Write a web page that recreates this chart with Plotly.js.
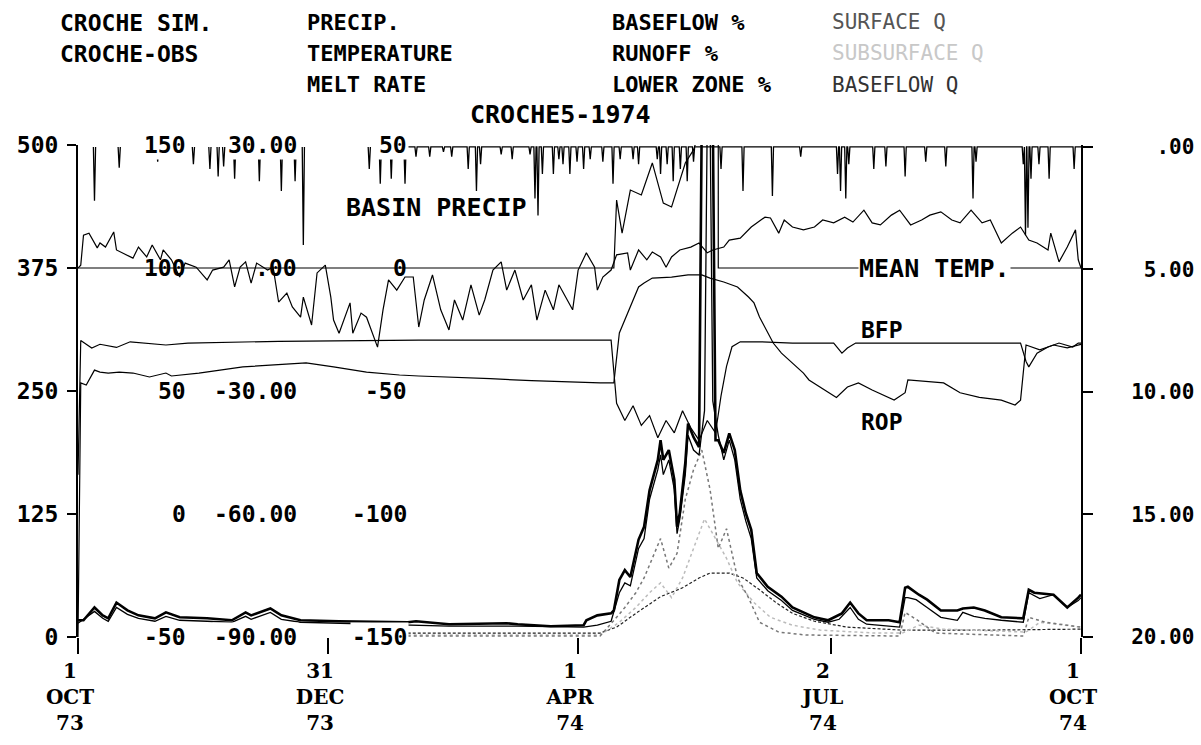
<!DOCTYPE html>
<html><head><meta charset="utf-8">
<script src="https://cdn.plot.ly/plotly-3.0.1.min.js"></script>
<style>html,body{margin:0;padding:0;background:#fff}#chart{width:1201px;height:745px}</style>
</head><body><div id="chart"></div>
<script>
// ---------------- DATA (day 0 = 1 OCT 1973) ----------------
const xTickDays = [0, 91, 182, 274, 365];
const xTickText = ['1<br>OCT<br>73', '31<br>DEC<br>73', '1<br>APR<br>74', '2<br>JUL<br>74', '1<br>OCT<br>74'];
const qTickVals = [0, 125, 250, 375, 500];
const pTickVals = [0, 5, 10, 15, 20];
const pTickText = ['.00', '5.00', '10.00', '15.00', '20.00'];
const pctTickVals = [150, 100, 50, 0, -50];
const pctTickText = ['150', '100', '50', '0', '-50'];
const tempTickVals = [30, 0, -30, -60, -90];
const tempTickText = ['30.00', '.00', '-30.00', '-60.00', '-90.00'];
const meltTickVals = [50, 0, -50, -100, -150];
const meltTickText = ['50', '0', '-50', '-100', '-150'];

// simulated discharge (CROCHE SIM.)
const simDay = [0,2,6,9,11,14,18,22,28,32,37,47,56,61,63,70,74,81,95,120,123,131,135,156,160,172,184,185,189,194,195,197,199,201,204,206,208,211,212,213,215,217,218,219,221,222,224,226,227,231,232,233,235,237,239,241,243,245,247,251,256,260,268,273,278,281,284,287,295,299,301,302,306,309,314,320,322,326,330,336,344,346,348,355,360,364,365];
const simQ = [17,17,30,22,19,35,27,22,19,25,20,19,17,25,22,29,22,17,16,15,16,14,13,14,13,11,12,17,22,24,27,58,68,61,99,112,149,180,200,180,190,160,112,126,177,217,203,193,530,530,200,200,187,207,190,149,126,109,65,51,41,30,20,17,24,35,24,17,17,15,50,51,43,38,27,27,29,30,27,20,19,48,45,43,30,40,43];
// observed discharge (CROCHE-OBS)
const obsDay = [0,6,9,11,14,18,22,28,32,37,47,56,61,63,70,74,81,95,120,135,160,184,189,194,197,199,201,204,206,208,211,212,213,215,217,218,219,221,222,224,226,228,229,230,231,233,235,237,239,241,243,245,247,251,256,260,268,273,277,281,284,287,299,301,302,305,309,314,320,322,326,330,336,344,346,350,355,360,364,365];
const obsQ = [14,26,19,16,30,23,19,16,21,17,16,15,21,18,25,18,15,14,12,11,11,10,12,16,45,55,52,90,100,140,170,185,165,180,150,105,120,165,205,190,185,230,530,530,240,205,180,200,180,140,118,100,60,47,37,27,18,15,18,30,18,13,10,40,40,38,30,20,17,25,21,19,17,15,45,39,43,30,37,40];
// surface / subsurface / baseflow Q
const surfDay = [120,190,196,199,203,206,209,212,215,218,221,224,227,230,233,236,240,244,248,255,265,299,301,305,312,344,346,352,360,365];
const surfQ = [1,1,20,30,45,60,80,100,70,85,140,170,190,150,90,110,60,40,15,5,2,1,25,18,4,1,20,15,12,10];
const subDay = [120,190,197,203,208,212,216,220,224,228,232,236,240,246,252,260,270,290,300,306,315,345,350,360,365];
const subQ = [2,2,15,30,45,55,40,60,90,120,100,80,55,35,20,12,7,4,4,12,8,5,15,12,10];
const baseDay = [120,190,196,203,212,220,226,230,237,242,248,254,260,268,280,300,330,365];
const baseQ = [4,4,10,24,41,50,60,65,65,60,48,35,24,16,10,7,7,8];

// basin precipitation (mm, right axis, hanging from top)
const precipDay = [123,128,133,136,142,145,146.5,154,158,164.5,166.3,167.4,169,173,175,176.5,179,181.6,184,186.4,191,194.7,197.3,202,204,210.8,212,214.4,216.6,219.2,221.7,224,234,242,252.7,263,276.4,277.5,279.4,280.5,289.6,294,301,308.5,315.8,325.7,326.8,344,344.8,345.7,346.8,349.7,353.4,362.5];
const precipMm = [0.4,0.4,0.2,0.4,0.9,1.8,0.7,0.3,0.5,0.3,2.1,2.8,1.1,1.1,0.5,0.7,1.1,0.6,0.9,0.5,0.6,1.5,0.5,0.5,0.7,0.5,1.1,0.7,1.4,0.9,1.4,0.6,0.9,1.8,2.0,0.4,1.1,1.8,2.1,0.7,0.9,0.8,1.2,0.6,0.8,2.1,0.6,0.7,3.6,3.3,1.3,0.7,1.3,0.9];
const precipWinterDay = [6,15,29,42,48,51,53,57,66,74,79,82,106,110,114,119];
const precipWinterMm = [2.2,0.85,0.6,0.7,0.9,1.2,0.8,1.3,1.4,1.8,1.4,4.0,0.9,1.5,1.3,1.5];

// mean temperature (deg C)
const tempDay = [0,1,2,4,7,8,10,13,14,18,20,22,25,27,30,31,34,37,39,43,47,49,53,55,57,59,61,63,65,69,71,73,76,78,81,82,85,87,90,92,93,95,99,100,103,105,109,111,113,116,119,122,124,126,129,132,135,137,140,143,146,148,151,154,156,159,162,165,167,170,173,175,180,182,185,188,189,191,194,196,200,201,204,207,209,212,214,216,219,223,226,229,231,235,237,241,245,247,250,252,255,257,260,264,268,271,275,279,282,286,289,292,296,299,303,307,310,314,318,321,325,329,332,336,340,343,346,349,353,354,357,360,363,364,365];
const tempC = [0,0.7,8.0,8.5,4.9,6.1,5.1,8.8,4.4,3.2,2.4,5.1,2.7,5.6,2.0,4.4,2.0,-2.2,1.2,0.2,-2.9,-0.5,0.2,2.0,-4.6,0.2,1.5,-3.7,1.2,-0.5,0.2,-8.3,-6.1,-9.5,-12.0,-7.1,-13.9,-1.2,0.7,-7.1,-12.7,-15.9,-8.5,-15.9,-11.0,-12.0,-19.3,-10.2,-2.9,-5.4,-2.2,-2.2,-14.4,-7.8,-1.7,-10.2,-15.1,-7.8,-12.7,-4.1,-11.5,-7.8,-0.5,1.5,-5.4,-0.5,-7.8,-4.1,-12.7,-5.4,-10.2,-4.1,-10.2,-0.5,3.7,0.2,-5.4,-2.2,-0.5,3.2,3.7,-0.5,4.4,2.0,3.9,2.7,0.2,2.7,4.4,5.1,6.1,3.7,4.4,5.1,6.8,7.3,10.0,11.0,12.4,12.2,8.5,11.7,10.0,9.3,10.0,11.7,11.0,12.4,11.2,14.1,11.0,10.5,12.9,14.1,10.5,11.7,12.9,13.7,11.7,11.0,14.1,11.0,11.7,6.1,8.5,10.0,6.8,6.1,4.4,8.5,1.5,5.1,9.3,2.0,0];

// melt rate
const meltDay = [0,195,196,198,201,205,209,213,216,221,224,226,233,233,365];
const meltRate = [0,0,27.6,14.2,31.7,29.7,42.7,26.4,24.8,42.7,48,55,55,0,0];

// baseflow % (BFP) and runoff % (ROP)
const bfpDay = [0,1,5,8,14,19,32,40,73,124,194,196,199,202,205,208,211,214,217,220,223,226,229,232,234,236,238,241,248,260,275,278,280,283,300,320,343,345,346,349,353,357,362,364,365];
const bfpPct = [16,70.5,67.5,69,67.7,70,68.7,69.5,70.2,70.7,70.7,45,38,44,36,40,31,38,33,42,35,30,38,33,48,60,68,70,70,69.5,69.5,65.4,67.5,69.5,69.5,69.5,69.5,62,59.8,65.4,67.9,69.5,67.9,69.5,69.5];
const ropDay = [0,1,3,6,8,11,15,20,26,32,34,44,60,72,83,93,105,117,124,150,165,190,195,197,200,204,206,209,216,222,227,230,235,240,244,246,248,251,253,256,260,264,266,273,276,280,284,289,297,301,302,315,321,328,336,341,343,345,350,355,360,365];
const ropPct = [-50,53.3,52.4,58.5,57.7,57.3,57.7,57.3,55.7,57.3,56.1,57.3,59.8,60.6,61.4,59.8,57.7,56.5,56.1,55.0,54.2,53.3,53.3,73.6,81.7,92.3,93.9,95.9,96.3,97.2,97.2,95.9,94.3,92.3,88.2,85.8,80.1,73.6,69.5,65.4,61.4,57.3,54.5,49.3,47.4,51.6,53.3,50.4,46.3,49.3,54.5,53.3,49.3,47.4,46.3,44.3,46.3,68.7,66.7,68.7,67.5,69];

// ---------------- BUILD ----------------
const MONO = 'DejaVu Sans Mono';
const L = 78, R = 1081, T = 145, B = 637;
const px = v => (v - L) / (R - L);
const py = v => (B - v) / (B - T);

function spikes(days, vals, continuous, start, end) {
  const x = [], y = [], hw = 0.4;
  if (continuous) { x.push(start); y.push(0); }
  days.forEach((d, i) => {
    if (!continuous) { x.push(null); y.push(null); }
    x.push(d - hw, d, d + hw); y.push(0, vals[i], 0);
  });
  if (continuous) { x.push(end); y.push(0); }
  return { x, y };
}
const pc = spikes(precipDay, precipMm, true, 120, 365);
const pw = spikes(precipWinterDay, precipWinterMm, false);

const blk = '#000';
const traces = [
  { x: baseDay, y: baseQ, yaxis: 'y', mode: 'lines', line: { color: '#222', width: 1.2, dash: '3px,2px' }, name: 'BASEFLOW Q' },
  { x: subDay, y: subQ, yaxis: 'y', mode: 'lines', line: { color: '#bbb', width: 1.5, dash: 'dot' }, name: 'SUBSURFACE Q' },
  { x: surfDay, y: surfQ, yaxis: 'y', mode: 'lines', line: { color: '#777', width: 1.5, dash: 'dot' }, name: 'SURFACE Q' },
  { x: pc.x, y: pc.y, yaxis: 'y2', mode: 'lines', line: { color: blk, width: 1.3 }, name: 'PRECIP.' },
  { x: pw.x, y: pw.y, yaxis: 'y2', mode: 'lines', line: { color: blk, width: 1.3 }, connectgaps: false, name: 'PRECIP.' },
  { x: tempDay, y: tempC, yaxis: 'y4', mode: 'lines', line: { color: blk, width: 1.2 }, name: 'TEMPERATURE' },
  { x: meltDay, y: meltRate, yaxis: 'y5', mode: 'lines', line: { color: blk, width: 1.2 }, name: 'MELT RATE' },
  { x: bfpDay, y: bfpPct, yaxis: 'y3', mode: 'lines', line: { color: blk, width: 1.2 }, name: 'BASEFLOW %' },
  { x: ropDay, y: ropPct, yaxis: 'y3', mode: 'lines', line: { color: blk, width: 1.2 }, name: 'RUNOFF %' },
  { x: obsDay, y: obsQ, yaxis: 'y', mode: 'lines', line: { color: blk, width: 1.3 }, name: 'CROCHE-OBS' },
  { x: simDay, y: simQ, yaxis: 'y', mode: 'lines', line: { color: blk, width: 2.6 }, name: 'CROCHE SIM.' }
];

const fB = (size, family, color) => ({ family: family || MONO, size, color: color || '#000', weight: 'bold' });
const ann = [];
function head(text, x, y, font) {
  ann.push({ xref: 'paper', yref: 'paper', x: px(x), y: py(y), xanchor: 'left', yanchor: 'middle', text, showarrow: false, font });
}
head('CROCHE SIM.', 58, 23, fB(23));
head('CROCHE-OBS', 58, 54, fB(23));
head('PRECIP.', 305, 23, fB(22));
head('TEMPERATURE', 305, 54, fB(22));
head('MELT RATE', 305, 85, fB(22));
head('BASEFLOW %', 610, 23, fB(22));
head('RUNOFF %', 610, 54, fB(22));
head('LOWER ZONE %', 610, 85, fB(22));
head('SURFACE Q', 830, 22, { family: MONO, size: 21, color: '#555' });
head('SUBSURFACE Q', 830, 53, { family: MONO, size: 21, color: '#c8c8c8' });
head('BASEFLOW Q', 830, 85, { family: MONO, size: 21, color: '#333' });

function inner(vals, texts, yref, xRight) {
  vals.forEach((v, i) => {
    const edge = (i === 0 || i === vals.length - 1);
    ann.push({ xref: 'paper', yref, x: px(xRight), y: v, xanchor: 'right', yanchor: 'middle', text: texts[i], showarrow: false,
      font: fB(23), bgcolor: edge ? '#fff' : 'rgba(0,0,0,0)', borderpad: 1 });
  });
}
inner(pctTickVals, pctTickText, 'y3', 188);
inner(tempTickVals, tempTickText, 'y4', 299);
inner(meltTickVals, meltTickText, 'y5', 409);

function lab(text, x, y, bg, size) {
  ann.push({ xref: 'paper', yref: 'paper', x: px(x), y: py(y), xanchor: 'left', yanchor: 'middle', text, showarrow: false, font: fB(size), bgcolor: bg || 'rgba(0,0,0,0)', borderpad: 0 });
}
lab('BASIN PRECIP', 345, 207, null, 25);
lab('MEAN TEMP.', 858, 268, '#fff', 25);
lab('BFP', 860, 330, null, 23);
lab('ROP', 860, 422, null, 23);

const pad = s => '\u00a0'.repeat(5 - s.length) + s;

const layout = {
  width: 1201, height: 745,
  margin: { l: L, r: 1201 - R, t: T, b: 745 - B, pad: 0 },
  paper_bgcolor: '#fff', plot_bgcolor: '#fff',
  showlegend: false,
  title: { text: 'CROCHE5-1974', font: fB(25), xref: 'paper', x: px(470), xanchor: 'left', yref: 'container', y: 1 - 114 / 745, yanchor: 'middle' },
  xaxis: {
    range: [0, 365], tickvals: xTickDays, ticktext: xTickText,
    ticks: 'outside', ticklen: 16, tickwidth: 2, tickcolor: '#000',
    showline: false, showgrid: false, zeroline: false,
    tickfont: fB(20, 'DejaVu Serif'), ticklabelshift: -8
  },
  yaxis: {
    range: [0, 500], tickvals: qTickVals, ticktext: qTickVals.map(String),
    ticks: 'outside', ticklen: 9, tickwidth: 2, tickcolor: '#000',
    showline: true, linewidth: 2, linecolor: '#000', showgrid: false, zeroline: false,
    tickfont: fB(23), ticklabelstandoff: 4
  },
  yaxis2: {
    overlaying: 'y', side: 'right', range: [20, -0.08],
    tickvals: pTickVals, ticktext: pTickText.map(pad),
    ticks: 'outside', ticklen: 10, tickwidth: 2, tickcolor: '#000',
    showline: true, linewidth: 2, linecolor: '#000', showgrid: false, zeroline: false,
    tickfont: fB(21), ticklabelstandoff: 34
  },
  yaxis3: { overlaying: 'y', range: [-50, 150], visible: false },
  yaxis4: { overlaying: 'y', range: [-90, 30], visible: false },
  yaxis5: { overlaying: 'y', range: [-150, 50], visible: false },
  annotations: ann
};

Plotly.newPlot('chart', traces, layout, { displayModeBar: false, staticPlot: true });
</script></body></html>
